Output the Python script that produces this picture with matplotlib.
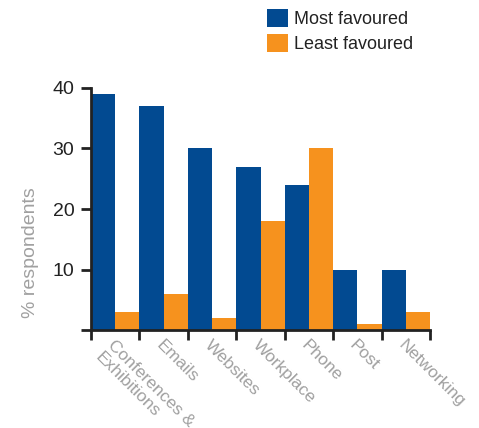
import matplotlib
matplotlib.use("Agg")
import matplotlib.pyplot as plt
from matplotlib.patches import Patch
import numpy as np

plt.rcParams['font.family'] = ['Liberation Sans', 'DejaVu Sans']

categories = ["Conferences &\nExhibitions", "Emails", "Websites", "Workplace", "Phone", "Post", "Networking"]
most_favoured = [39, 37, 30, 27, 24, 10, 10]
least_favoured = [3, 6, 2, 18, 30, 1, 3]
series_names = ["Most favoured", "Least favoured"]
yticks = [10, 20, 30, 40]

blue = "#024a91"
orange = "#f6921e"

fig = plt.figure(figsize=(4.79, 4.28), dpi=100)
ax = fig.add_axes([91/479, 1-330/428, (430-91)/479, (330-88)/428])

x = np.arange(len(categories))
ax.bar(x, most_favoured, width=0.5, align='edge', color=blue, linewidth=0)
ax.bar(x + 0.5, least_favoured, width=0.5, align='edge', color=orange, linewidth=0)

ax.set_xlim(0, len(categories))
ax.set_ylim(0, 40)

for s in ['top', 'right']:
    ax.spines[s].set_visible(False)
for s in ['left', 'bottom']:
    ax.spines[s].set_linewidth(2)
    ax.spines[s].set_color('#222222')

ax.set_yticks([0] + yticks)
ax.set_yticklabels([''] + [str(v) for v in yticks])
ax.set_xticks(np.arange(len(categories) + 1))
ax.set_xticklabels([])
ax.tick_params(axis='both', direction='out', length=7, width=2, color='#222222')
ax.tick_params(axis='y', labelsize=14, labelcolor='#222222', pad=5)

for i, c in enumerate(categories):
    ax.text(i + 0.5, -1.2, c, rotation=-45, rotation_mode='anchor',
            ha='left', va='top', fontsize=12.5, color='#a0a0a0', linespacing=1.15,
            transform=ax.transData, clip_on=False)

ax.set_ylabel("% respondents", fontsize=14, color='#a0a0a0')
ax.yaxis.set_label_coords(-0.152, 0.32)

handles = [Patch(facecolor=blue, edgecolor='none'), Patch(facecolor=orange, edgecolor='none')]
fig.legend(handles, series_names, loc='upper left', bbox_to_anchor=(267/479, 1 - 9/428),
           frameon=False, fontsize=13, handlelength=1.17, handleheight=1.17,
           handletextpad=0.3, labelspacing=0.33, borderpad=0, borderaxespad=0,
           labelcolor='#222222')

fig.savefig("out.png", dpi=100)
